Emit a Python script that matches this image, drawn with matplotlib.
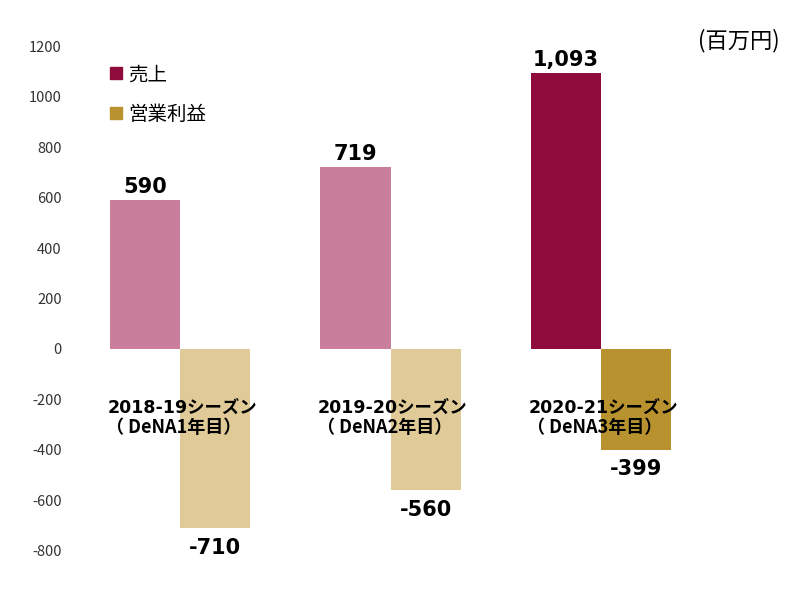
import matplotlib.pyplot as plt
from matplotlib.patches import Patch

plt.rcParams['font.family'] = ['Noto Sans CJK JP', 'DejaVu Sans']
plt.rcParams['axes.unicode_minus'] = False

season_years = ["2018-19シーズン", "2019-20シーズン", "2020-21シーズン"]
season_notes = ["（ DeNA1年目）", "（ DeNA2年目）", "（ DeNA3年目）"]
sales = [590, 719, 1093]
profit = [-710, -560, -399]
sales_colors = ["#C97F9C", "#C97F9C", "#8E0B3C"]
profit_colors = ["#DFCA98", "#DFCA98", "#B8922E"]

bold_fam = ['DejaVu Sans', 'Noto Sans CJK JP']

fig = plt.figure(figsize=(8, 6), dpi=100)
ax = fig.add_axes([70 / 800, 1 - 563.6 / 600, 710 / 800, (563.6 - 33.4) / 600])

w = 0.333
x = list(range(len(sales)))
ax.bar([i - w / 2 for i in x], sales, w, color=sales_colors, zorder=1)
ax.bar([i + w / 2 for i in x], profit, w, color=profit_colors, zorder=1)

for i in x:
    ax.annotate(f"{sales[i]:,}", (i - w / 2, sales[i]), xytext=(0, 2.5), textcoords="offset points",
                ha="center", va="bottom", fontsize=15, fontweight="bold", family=bold_fam)
    ax.annotate(f"{profit[i]}", (i + w / 2, profit[i]), xytext=(0, -7), textcoords="offset points",
                ha="center", va="top", fontsize=15, fontweight="bold", family=bold_fam)
    # category label, two lines over the bars
    ax.text(i + 0.01, -234, season_years[i], ha="center", va="center", fontsize=12.5,
            fontweight="bold", zorder=3, family=bold_fam)
    ax.text(i - 0.03, -310, season_notes[i], ha="center", va="center", fontsize=13,
            fontweight="bold", zorder=3, family=['Noto Sans CJK JP', 'DejaVu Sans'])

ax.set_xlim((70 - 180) / 210.5, (780 - 180) / 210.5)
ax.set_ylim(-850, 1250)
ax.set_yticks(range(-800, 1201, 200))
ax.set_xticks([])
ax.tick_params(axis="y", length=0, pad=6, labelsize=10.5, labelcolor="#333333")
for s in ax.spines.values():
    s.set_visible(False)

handles = [Patch(color=sales_colors[2]), Patch(color=profit_colors[2])]
ax.legend(handles, ["売上", "営業利益"], loc="upper left", bbox_to_anchor=(0.032, 0.975),
          frameon=False, fontsize=14, handlelength=0.6, handleheight=0.6,
          handletextpad=0.3, labelspacing=0.95)

fig.text(0.975, 0.932, "(百万円)", ha="right", va="center", fontsize=16)

fig.savefig("out.png", dpi=100)
